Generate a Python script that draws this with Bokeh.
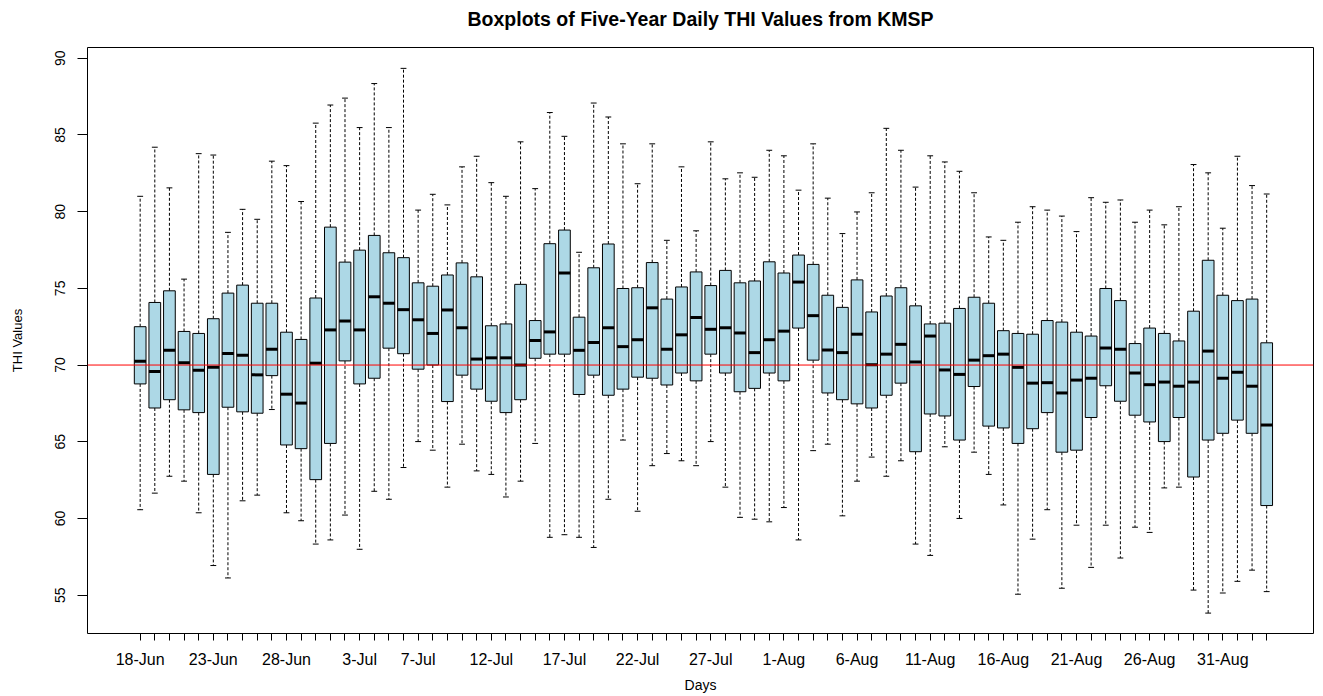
import pandas as pd
from bokeh.plotting import figure
from bokeh.models import ColumnDataSource, FixedTicker, Span, Title
from bokeh.embed import file_html
from bokeh.resources import INLINE

# ---------------- data ----------------
days = pd.date_range("2019-06-18", periods=78).strftime("%-d-%b").tolist()
shown_labels = ["18-Jun", "23-Jun", "28-Jun", "3-Jul", "7-Jul", "12-Jul", "17-Jul",
                "22-Jul", "27-Jul", "1-Aug", "6-Aug", "11-Aug", "16-Aug", "21-Aug",
                "26-Aug", "31-Aug"]

upper = [81.0, 84.2, 81.55, 75.6, 83.78, 83.69, 78.65, 80.15, 79.5, 83.29,
         83.0, 80.66, 85.77, 86.95, 87.4, 85.48, 88.35, 85.48, 89.34, 80.1,
         81.13, 80.44, 82.92, 83.61, 81.89, 81.0, 84.55, 81.5, 86.46, 84.91,
         77.35, 87.08, 86.17, 84.42, 81.82, 84.42, 78.13, 82.92, 78.75, 84.55,
         82.14, 82.53, 82.24, 84.0, 83.64, 81.4, 84.42, 80.88, 78.57, 79.98,
         81.23, 85.43, 84.0, 81.6, 83.64, 83.24, 82.63, 81.23, 78.35, 78.13,
         79.31, 80.32, 80.1, 79.71, 78.7, 80.91, 80.61, 80.76, 79.31, 80.1,
         79.14, 80.32, 83.07, 82.53, 78.92, 83.61, 81.7, 81.15]
q3 = [72.5, 74.08, 74.84, 72.19, 72.06, 73.02, 74.69, 75.21, 74.03, 74.03,
      72.14, 71.67, 74.37, 78.99, 76.71, 77.49, 78.45, 77.32, 77.0, 75.36,
      75.14, 75.87, 76.66, 75.75, 72.56, 72.68, 75.26, 72.9, 77.91, 78.8,
      73.12, 76.34, 77.89, 74.99, 75.04, 76.68, 74.3, 75.09, 76.07, 75.18,
      76.17, 75.36, 75.48, 76.73, 76.0, 77.17, 76.56, 74.55, 73.76, 75.55,
      73.46, 74.5, 75.04, 73.86, 72.68, 72.73, 73.69, 74.42, 74.03, 72.24,
      72.06, 72.01, 72.9, 72.8, 72.14, 71.89, 74.99, 74.2, 71.4, 72.41,
      72.06, 71.57, 73.51, 76.83, 74.55, 74.2, 74.3, 71.45]
median = [70.25, 69.58, 70.96, 70.15, 69.66, 69.85, 70.76, 70.64, 69.36, 71.03,
          68.1, 67.52, 70.12, 72.29, 72.87, 72.29, 74.45, 74.03, 73.61, 72.95,
          72.06, 73.59, 72.43, 70.39, 70.47, 70.47, 70.0, 71.6, 72.16, 76.0,
          70.96, 71.47, 72.43, 71.2, 71.65, 73.73, 71.03, 71.97, 73.1, 72.33,
          72.43, 72.09, 70.81, 71.65, 72.21, 75.41, 73.22, 70.98, 70.81, 72.01,
          70.02, 70.71, 71.35, 70.2, 71.89, 69.68, 69.39, 70.32, 70.61, 70.71,
          69.85, 68.82, 68.85, 68.18, 69.02, 69.14, 71.11, 71.03, 69.48, 68.72,
          68.89, 68.62, 68.89, 70.91, 69.14, 69.53, 68.62, 66.09]
q1 = [68.77, 67.2, 67.74, 67.08, 66.9, 62.87, 67.25, 66.95, 66.86, 69.31,
      64.79, 64.55, 62.53, 64.89, 70.27, 68.77, 69.14, 71.1, 70.74, 69.73,
      70.0, 67.62, 69.34, 68.43, 67.64, 66.9, 67.74, 70.44, 70.71, 70.71,
      68.08, 69.34, 68.03, 68.43, 69.21, 69.14, 68.7, 69.48, 68.97, 70.71,
      69.48, 68.26, 68.48, 69.48, 68.97, 72.41, 70.32, 68.18, 67.74, 67.47,
      67.2, 68.03, 68.82, 64.35, 66.81, 66.68, 65.11, 68.6, 66.02, 65.9,
      64.89, 65.85, 66.9, 64.32, 64.45, 66.58, 68.65, 67.64, 66.73, 66.29,
      65.01, 66.58, 62.7, 65.11, 65.55, 66.41, 65.55, 60.84]
lower = [60.57, 61.65, 62.75, 62.43, 60.37, 56.93, 56.12, 61.15, 61.52, 67.1,
         60.37, 59.85, 58.33, 58.6, 60.22, 57.99, 61.77, 61.25, 63.32, 65.01,
         64.45, 62.04, 64.84, 63.1, 62.87, 61.4, 62.43, 64.89, 58.77, 58.94,
         58.77, 58.11, 61.25, 65.11, 60.47, 63.44, 64.23, 63.76, 63.44, 65.01,
         62.04, 60.07, 59.95, 59.78, 60.71, 58.6, 64.42, 64.84, 60.17, 62.43,
         64.0, 62.75, 63.76, 58.33, 57.59, 64.67, 60.0, 64.32, 62.87, 60.88,
         55.06, 58.65, 60.57, 55.45, 59.56, 56.81, 59.56, 57.42, 59.43, 59.09,
         61.99, 62.04, 55.33, 53.83, 55.14, 55.9, 56.63, 55.23]
y_ticks = [55, 60, 65, 70, 75, 80, 85, 90]
reference_value = 70
title_text = "Boxplots of Five-Year Daily THI Values from KMSP"

# ---------------- geometry / style ----------------
BOX_W = 0.8
CAP_W = 0.4
FONT = "Liberation Sans"

pos = list(range(1, len(days) + 1))
src = ColumnDataSource(dict(
    x=pos, upper=upper, q3=q3, med=median, q1=q1, lower=lower,
    box_l=[v - BOX_W / 2 for v in pos], box_r=[v + BOX_W / 2 for v in pos],
    cap_l=[v - CAP_W / 2 for v in pos], cap_r=[v + CAP_W / 2 for v in pos],
))

p = figure(width=1323, height=696, x_range=(-2.6, 81.2), y_range=(52.5, 90.7),
           output_backend="svg", toolbar_location=None,
           min_border_left=87, min_border_right=10, min_border_top=47, min_border_bottom=63)
p.background_fill_color = "white"
p.border_fill_color = "white"
p.outline_line_color = "black"
p.outline_line_width = 1
p.xgrid.visible = False
p.ygrid.visible = False

# title: a blank spacer panel next to the frame, the real title above it
p.title.text = ""
p.title.visible = False
p.add_layout(Title(text=" ", text_font_size="1px", standoff=15), "above")
p.add_layout(Title(text=title_text, align="center", text_font=FONT,
                   text_font_size="19.5px", text_font_style="bold",
                   text_color="black", standoff=0), "above")

# whiskers
p.segment(x0="x", y0="q3", x1="x", y1="upper", source=src, line_color="black",
          line_width=1, line_dash="3 2")
p.segment(x0="x", y0="q1", x1="x", y1="lower", source=src, line_color="black",
          line_width=1, line_dash="3 2")
p.segment(x0="cap_l", y0="upper", x1="cap_r", y1="upper", source=src,
          line_color="black", line_width=1)
p.segment(x0="cap_l", y0="lower", x1="cap_r", y1="lower", source=src,
          line_color="black", line_width=1)
# boxes
p.vbar(x="x", width=BOX_W, top="q3", bottom="q1", source=src,
       fill_color="#ADD8E6", line_color="black", line_width=1)
# medians
p.segment(x0="box_l", y0="med", x1="box_r", y1="med", source=src,
          line_color="black", line_width=3)

# reference line
p.add_layout(Span(location=reference_value, dimension="width",
                  line_color="red", line_width=1))

# x axis
xa = p.xaxis[0]
xa.ticker = FixedTicker(ticks=pos)
xa.major_label_overrides = {i: (d if d in shown_labels else "") for i, d in zip(pos, days)}
xa.axis_label = "Days"
xa.axis_line_color = None
xa.major_tick_in = 0
xa.major_tick_out = 7
xa.major_tick_line_color = "black"
xa.minor_tick_line_color = None
xa.major_label_text_font = FONT
xa.major_label_text_font_size = "16px"
xa.major_label_text_color = "black"
xa.major_label_standoff = 10
xa.axis_label_text_font = FONT
xa.axis_label_text_font_size = "14px"
xa.axis_label_text_font_style = "normal"
xa.axis_label_text_color = "black"
xa.axis_label_standoff = 6

# y axis
ya = p.yaxis[0]
ya.ticker = FixedTicker(ticks=y_ticks)
ya.axis_label = "THI Values"
ya.axis_line_color = None
ya.major_tick_in = 0
ya.major_tick_out = 10
ya.major_tick_line_color = "black"
ya.minor_tick_line_color = None
ya.major_label_orientation = "vertical"
ya.major_label_text_font = FONT
ya.major_label_text_font_size = "14px"
ya.major_label_text_color = "black"
ya.major_label_standoff = 12
ya.axis_label_text_font = FONT
ya.axis_label_text_font_size = "13px"
ya.axis_label_text_font_style = "normal"
ya.axis_label_text_color = "black"
ya.axis_label_standoff = 28

open("out.html", "w").write(file_html(p, INLINE))
